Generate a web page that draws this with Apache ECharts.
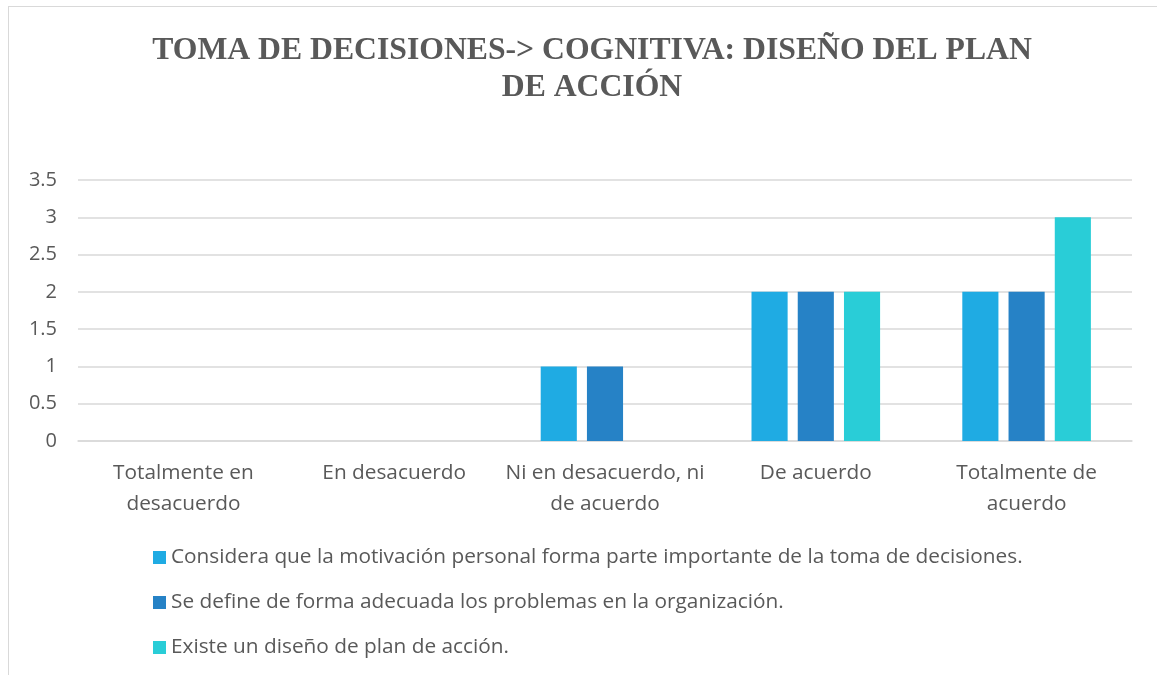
<!DOCTYPE html>
<html><head><meta charset="utf-8">
<script src="https://cdn.jsdelivr.net/npm/echarts@6/dist/echarts.min.js"></script>
<style>html,body{margin:0;padding:0;background:#fff}#c{width:1157px;height:675px}
#frame{position:absolute;left:8px;top:6px;width:1160px;height:680px;border:1px solid #d9d9d9;pointer-events:none}</style>
</head><body><div id="c"></div><div id="frame"></div>
<script>
const categories = ["Totalmente en\ndesacuerdo", "En desacuerdo", "Ni en desacuerdo, ni\nde acuerdo", "De acuerdo", "Totalmente de\nacuerdo"];
const seriesNames = [
  "Considera que la motivación personal forma parte importante de la toma de decisiones.",
  "Se define de forma adecuada los problemas en la organización.",
  "Existe un diseño de plan de acción."
];
const motivacion = [0, 0, 1, 2, 2];
const problemas = [0, 0, 1, 2, 2];
const planAccion = [0, 0, 0, 2, 3];
const yTicks = [0, 0.5, 1, 1.5, 2, 2.5, 3, 3.5];
const colors = ["#1FABE3", "#2682C6", "#29CDD7"];
const values = [motivacion, problemas, planAccion];
const font = "Open Sans";
const chart = echarts.init(document.getElementById('c'));
chart.setOption({
  animation: false,
  title: {
    text: "TOMA DE DECISIONES-> COGNITIVA: DISEÑO DEL PLAN\nDE ACCIÓN",
    left: 587, top: 27, textAlign: 'center',
    textStyle: {fontFamily: "Liberation Serif", fontWeight: 'bold', fontSize: 31.7, color: '#595959', lineHeight: 37}
  },
  legend: {
    orient: 'vertical', left: 148, top: 541, itemGap: 22,
    icon: 'rect', itemWidth: 13, itemHeight: 13,
    textStyle: {fontFamily: font, fontSize: 20.8, color: '#595959', lineHeight: 23},
    data: seriesNames
  },
  grid: {left: 78, right: 25, top: 180, height: 261, containLabel: false},
  xAxis: {
    type: 'category', data: categories,
    axisLine: {lineStyle: {color: '#d9d9d9', width: 1.5}},
    axisTick: {show: false},
    axisLabel: {fontFamily: font, fontSize: 20.8, color: '#595959', lineHeight: 31, margin: 17, interval: 0}
  },
  yAxis: {
    type: 'value', min: 0, max: 3.5, interval: 0.5,
    axisLine: {show: false}, axisTick: {show: false},
    splitLine: {lineStyle: {color: '#d9d9d9', width: 1.5}},
    axisLabel: {fontFamily: font, fontSize: 20, color: '#595959', margin: 21,
      formatter: v => yTicks.includes(v) ? String(v) : ''}
  },
  series: values.map((d, i) => ({
    name: seriesNames[i], type: 'bar', data: d,
    barGap: '28%', barCategoryGap: '39%',
    itemStyle: {color: colors[i]}
  }))
});
</script></body></html>
